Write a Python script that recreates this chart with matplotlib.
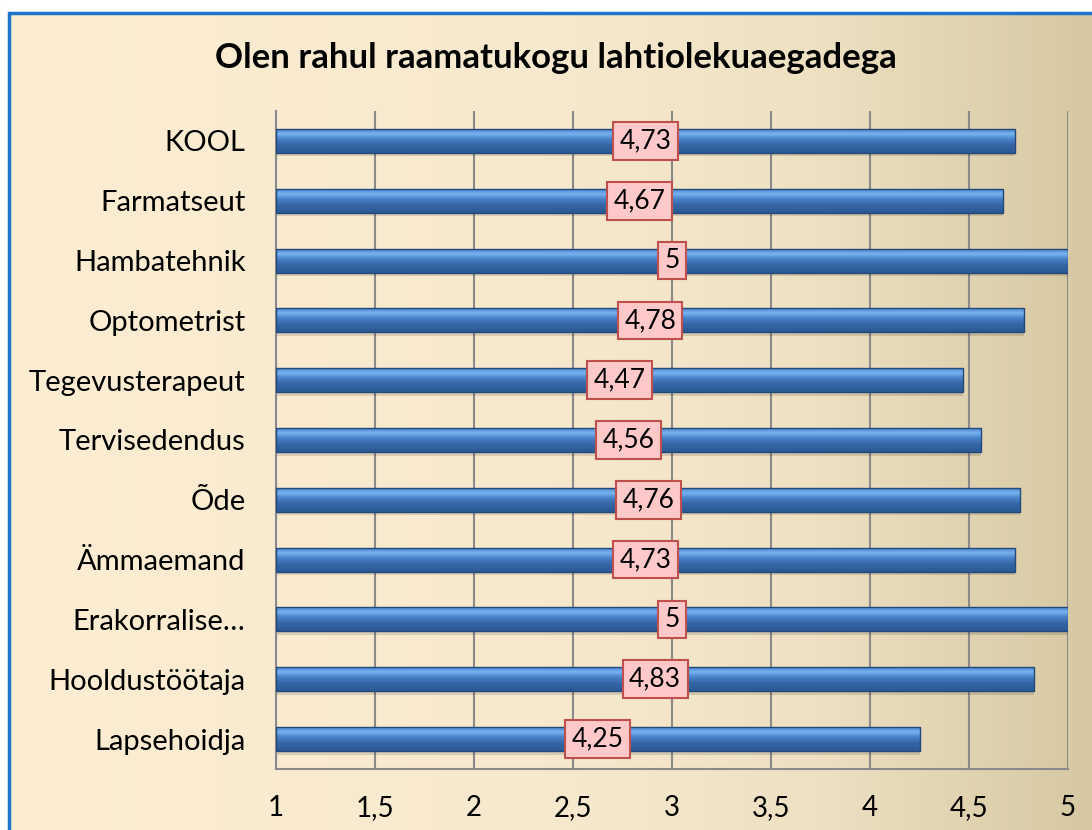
import matplotlib.pyplot as plt
import numpy as np
from matplotlib.colors import LinearSegmentedColormap
from matplotlib.patches import Rectangle

plt.rcParams["font.family"] = ["Lato", "DejaVu Sans"]

title = "Olen rahul raamatukogu lahtiolekuaegadega"
categories = ["KOOL", "Farmatseut", "Hambatehnik", "Optometrist", "Tegevusterapeut",
              "Tervisedendus", "Õde", "Ämmaemand", "Erakorralise…", "Hooldustöötaja",
              "Lapsehoidja"]
values = [4.73, 4.67, 5, 4.78, 4.47, 4.56, 4.76, 4.73, 5, 4.83, 4.25]
labels = ["4,73", "4,67", "5", "4,78", "4,47", "4,56", "4,76", "4,73", "5", "4,83", "4,25"]
ticks = [1, 1.5, 2, 2.5, 3, 3.5, 4, 4.5, 5]
tick_labels = ["1", "1,5", "2", "2,5", "3", "3,5", "4", "4,5", "5"]

W, H = 1092, 830
fig = plt.figure(figsize=(W / 100, H / 100), dpi=100)

# background gradient
bg = fig.add_axes([0, 0, 1, 1])
bg.set_axis_off()
bg_cmap = LinearSegmentedColormap.from_list(
    "bg", [(0, "#FCEDD3"), (0.5, "#F7E9CE"), (0.75, "#EDE1C2"), (1, "#D6C8A2")])
grad = np.linspace(0, 1, 256).reshape(1, -1)
bg.imshow(grad, cmap=bg_cmap, aspect="auto", extent=[0, 1, 0, 1])
bg.set_xlim(0, 1)
bg.set_ylim(0, 1)
# white margin at top and left, blue frame
bg.add_patch(Rectangle((0, 1 - 12 / H), 1, 12 / H, color="white", zorder=2))
bg.add_patch(Rectangle((0, 0), 8 / W, 1, color="white", zorder=2))
bg.add_patch(Rectangle((9 / W, -0.1), 1.1, 1 - 13 / H + 0.1, fill=False,
                       edgecolor="#1F74C9", lw=2.5, zorder=3))

ax = fig.add_axes([276 / W, 1 - 769 / H, (1068 - 276) / W, (769 - 111) / H])
ax.set_facecolor("none")

y = np.arange(len(categories))[::-1]
bar_h = 0.4
bar_cmap = LinearSegmentedColormap.from_list(
    "bar", [(0, "#2A5A94"), (0.35, "#3767A8"), (0.6, "#4A85CC"), (0.8, "#78B4F0"), (1, "#4A86D0")])
vgrad = np.linspace(0, 1, 64).reshape(-1, 1)

for yi, v in zip(y, values):
    # shadow
    ax.barh(yi - 0.06, v - 1, left=1, height=bar_h, color="black", alpha=0.12, zorder=2,
            linewidth=0)
    ax.imshow(vgrad, cmap=bar_cmap, aspect="auto", origin="lower",
              extent=[1, v, yi - bar_h / 2, yi + bar_h / 2], zorder=3)
    ax.barh(yi, v - 1, left=1, height=bar_h, color="none", edgecolor="#24487A",
            linewidth=1, zorder=4)

for yi, v, lab in zip(y, values, labels):
    ax.text((1 + v) / 2, yi, lab, ha="center", va="center", fontsize=19, zorder=6,
            bbox=dict(boxstyle="square,pad=0.24", facecolor="#FFC9C9",
                      edgecolor="#C0504D", linewidth=1.5))

ax.set_xlim(1, 5)
ax.set_ylim(-0.5, len(categories) - 0.5)
ax.set_xticks(ticks)
ax.set_xticklabels(tick_labels, fontsize=20)
ax.set_yticks(y)
ax.set_yticklabels(categories, fontsize=21)
ax.tick_params(axis="x", length=0, pad=19)
ax.tick_params(axis="y", length=0, pad=22)
ax.grid(axis="x", color="#8A8A8A", linewidth=1.5, zorder=1)
ax.set_axisbelow(True)
for side in ["top", "right"]:
    ax.spines[side].set_visible(False)
for side in ["left", "bottom"]:
    ax.spines[side].set_color("#8A8A8A")
    ax.spines[side].set_linewidth(1.5)

fig.text(556 / W, 1 - 58 / H, title, ha="center", va="center", fontsize=25,
         fontweight="bold")

fig.savefig("out.png", dpi=100)
